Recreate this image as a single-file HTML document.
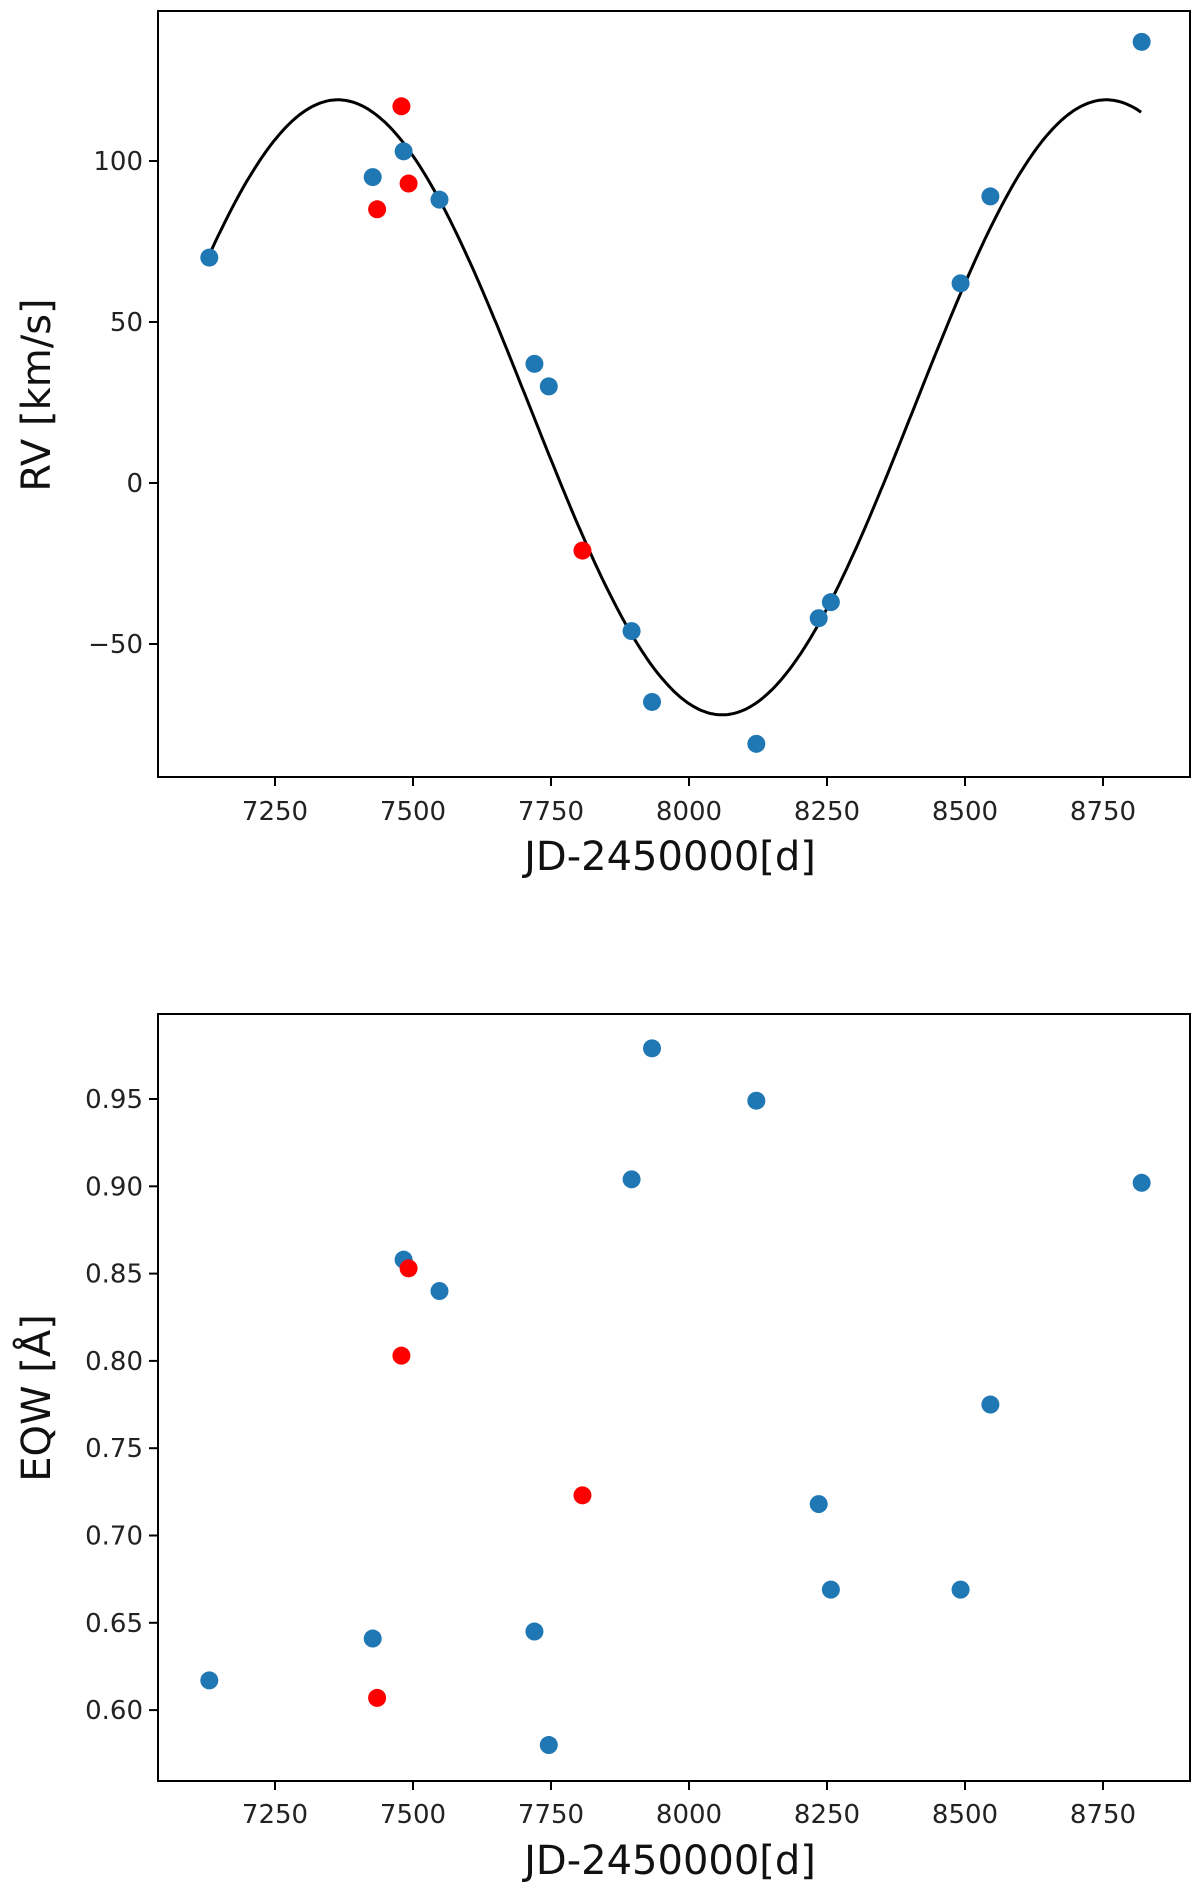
<!DOCTYPE html>
<html><head><meta charset="utf-8"><style>
html,body{margin:0;padding:0;background:#fff;}
svg{display:block;font-family:"DejaVu Sans","Liberation Sans",sans-serif;}
</style></head><body>
<svg id="fig" width="1200" height="1890" viewBox="0 0 1200 1890" xmlns="http://www.w3.org/2000/svg"></svg>
<script>
const dates = [7131,7427,7483,7548,7720,7746,7896,7933,8122,8235,8257,8492,8546,8820];
const rvBlue = [70,95,103,88,37,30,-46,-68,-81,-42,-37,62,89,137];
const eqwBlue = [0.617,0.641,0.858,0.840,0.645,0.580,0.904,0.979,0.949,0.718,0.669,0.669,0.775,0.902];
const datesRed = [7435,7479,7492,7807];
const rvRed = [85,117,93,-21];
const eqwRed = [0.607,0.803,0.853,0.723];
const xTicks = [7250,7500,7750,8000,8250,8500,8750];
const rvTicks = [-50,0,50,100];
const eqwTicks = [0.60,0.65,0.70,0.75,0.80,0.85,0.90,0.95];
const fitParams = [23.5, 95.5, 1392, 7364]; // mean, amplitude, period, epoch of max

const NS="http://www.w3.org/2000/svg";
const svg=document.getElementById('fig');
function mk(tag,attrs,parent){const e=document.createElementNS(NS,tag);for(const k in attrs)e.setAttribute(k,attrs[k]);(parent||svg).appendChild(e);return e;}

const L=158,R=1190;
const xs=v=>275+(v-7250)*0.552;
const panels=[
 {name:'rv',top:11,bot:777,ys:v=>483-3.22*v,ticks:rvTicks,fmt:v=>v<0?'\u2212'+Math.abs(v):String(v),blue:rvBlue,red:rvRed,label:'RV [km/s]',labelY:395,xlabBase:870,xtickBase:820},
 {name:'eqw',top:1014,bot:1781,ys:v=>1099-(v-0.95)*1746,ticks:eqwTicks,fmt:v=>v.toFixed(2),blue:eqwBlue,red:eqwRed,label:'EQW [\u00C5]',labelY:1398,xlabBase:1874,xtickBase:1823}
];
panels.forEach(p=>{
  const g=mk('g',{});
  
  
  xTicks.forEach(t=>{
    const l=mk('line',{x1:xs(t),x2:xs(t),y1:p.bot,y2:p.bot+9,stroke:'#000','stroke-width':2},g);
    
    
    const tx=mk('text',{x:xs(t),y:p.xtickBase,'font-size':26,'text-anchor':'middle',fill:'#222'},g);
    tx.textContent=t;
    
    
  });
  p.ticks.forEach(t=>{
    const y=p.ys(t);
    const l=mk('line',{x1:L-9,x2:L,y1:y,y2:y,stroke:'#000','stroke-width':2},g);
    
    
    const tx=mk('text',{x:L-15,y:y+9,'font-size':26,'text-anchor':'end',fill:'#222'},g);
    tx.textContent=p.fmt(t);
    
    
  });
  const xl=mk('text',{x:670,y:p.xlabBase,'font-size':40,'text-anchor':'middle',fill:'#111'},g);
  xl.textContent='JD-2450000[d]';
  
  
  const yl=mk('text',{x:0,y:0,'font-size':40,'text-anchor':'middle',fill:'#111',transform:`translate(50,${p.labelY}) rotate(-90)`},g);
  yl.textContent=p.label;
  
  
  if(p.name==='rv'){
    let d='';
    for(let t=dates[0];t<=dates[dates.length-1];t+=4){
      const v=fitParams[0]+fitParams[1]*Math.cos(2*Math.PI*(t-fitParams[3])/fitParams[2]);
      d+=(d?'L':'M')+xs(t).toFixed(1)+','+p.ys(v).toFixed(1);
    }
    const c=mk('path',{d:d,fill:'none',stroke:'#000','stroke-width':3},g);
    
    
  }
  dates.forEach((t,i)=>{
    const c=mk('circle',{cx:xs(t),cy:p.ys(p.blue[i]),r:9,fill:'#1f77b4'},g);
    
    
  });
  datesRed.forEach((t,i)=>{
    const c=mk('circle',{cx:xs(t),cy:p.ys(p.red[i]),r:9,fill:'#ff0000'},g);
    
    
  });
  const f=mk('rect',{x:L,y:p.top,width:R-L,height:p.bot-p.top,fill:'none',stroke:'#000','stroke-width':2},g);
  
  
});
</script>
</body></html>
